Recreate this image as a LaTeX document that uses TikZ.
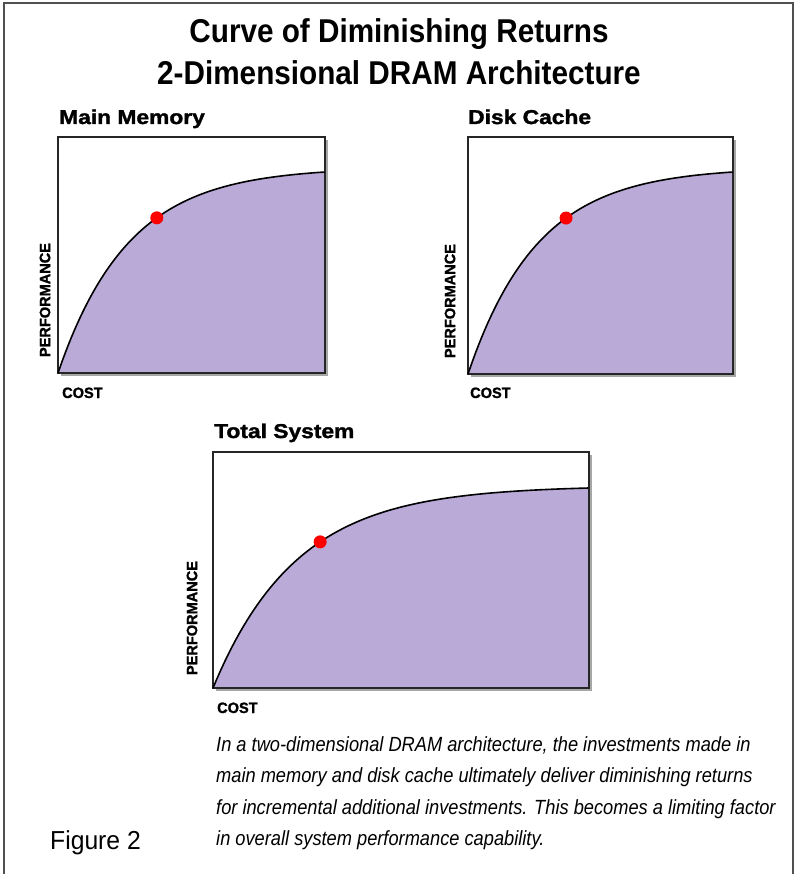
\documentclass[tikz,border=0pt]{standalone}
\usepackage{fontspec}
\setmainfont{Liberation Sans}
\newfontfamily\titlefont[FakeStretch=0.9]{Liberation Sans}
\newfontfamily\labfont[FakeStretch=1.14, BoldFeatures={FakeBold=1.6}]{Liberation Sans}
\newfontfamily\axfont[FakeStretch=0.97, BoldFeatures={FakeBold=1.3}]{Liberation Sans}
\newfontfamily\capfont[FakeStretch=0.89]{Liberation Sans}
\newfontfamily\figfont[FakeStretch=0.95]{Liberation Sans}
\definecolor{purp}{RGB}{186,170,216}
\definecolor{framegray}{RGB}{80,80,80}
\newcommand{\drawchart}[7]{%
  \fill[purp] (#1,#4) -- plot[domain=0:1,samples=100] ({#1+(#2-#1)*\x},{#4-(#4-#5)*(1-exp(-#6*\x))/(1-exp(-#6))}) -- (#2,#4) -- cycle;
  \draw[shadowline] (#2+1.5,#3+3) -- (#2+1.5,#4+1.5) -- (#1+3,#4+1.5);
  \draw[boxline] (#1,#3) rectangle (#2,#4);
  \draw[curveline] plot[domain=0:1,samples=100] ({#1+(#2-#1)*\x},{#4-(#4-#5)*(1-exp(-#6*\x))/(1-exp(-#6))});
  \fill[red] ({#1+(#2-#1)*#7},{#4-(#4-#5)*(1-exp(-#6*#7))/(1-exp(-#6))}) circle (6.5);
}
\begin{document}
\begin{tikzpicture}[x=1pt,y=-1pt,
  ttl/.style={font=\titlefont\bfseries\fontsize{33}{38}\selectfont, inner sep=0pt},
  clab/.style={font=\labfont\bfseries\fontsize{20}{24}\selectfont, inner sep=0pt, anchor=base west},
  axl/.style={font=\axfont\bfseries\fontsize{15}{18}\selectfont, inner sep=0pt},
  capl/.style={font=\capfont\itshape\fontsize{20.5}{24}\selectfont, inner sep=0pt, anchor=base west},
  figl/.style={font=\figfont\fontsize{26}{30}\selectfont, inner sep=0pt, anchor=base west},
  boxline/.style={draw=black!85, line width=2pt},
  shadowline/.style={draw=black!35, line width=2pt},
  curveline/.style={draw=black, line width=1.6pt}]
\useasboundingbox (0,0) rectangle (798,874);
\draw[framegray, line width=1.5pt] (4,874) -- (4,3) -- (793,3) -- (793,874);

\node[ttl, anchor=base] (t1) at (399,43) {Curve of Diminishing Returns};
\node[ttl, anchor=base] (t2) at (399,85) {2-Dimensional DRAM Architecture};

% Main Memory
\drawchart{58}{325}{137}{373}{172}{3.8}{0.37}
\node[clab] (mm) at (59,124) {Main Memory};
\node[axl, rotate=90] (p1) at (45,300) {PERFORMANCE};
\node[axl, anchor=base west] (c1) at (62,398) {COST};

% Disk Cache
\drawchart{468}{733}{137}{374}{172}{3.8}{0.37}
\node[clab] (dc) at (468,124) {Disk Cache};
\node[axl, rotate=90] (p2) at (450,301) {PERFORMANCE};
\node[axl, anchor=base west] (c2) at (470,398) {COST};

% Total System
\drawchart{213}{589}{452}{688}{488}{4.5}{0.285}
\node[clab] (ts) at (214,438) {Total System};
\node[axl, rotate=90] (p3) at (192,618) {PERFORMANCE};
\node[axl, anchor=base west] (c3) at (217,713) {COST};

% Caption
\node[capl] (cap1) at (216,751) {In a two-dimensional DRAM architecture, the investments made in};
\node[capl] (cap2) at (216,782) {main memory and disk cache ultimately deliver diminishing returns};
\node[capl] (cap3) at (216,814) {for incremental additional investments. This becomes a limiting factor};
\node[capl] (cap4) at (216,845) {in overall system performance capability.};
\node[figl] (fig) at (50,849) {Figure 2};
\end{tikzpicture}
\end{document}
